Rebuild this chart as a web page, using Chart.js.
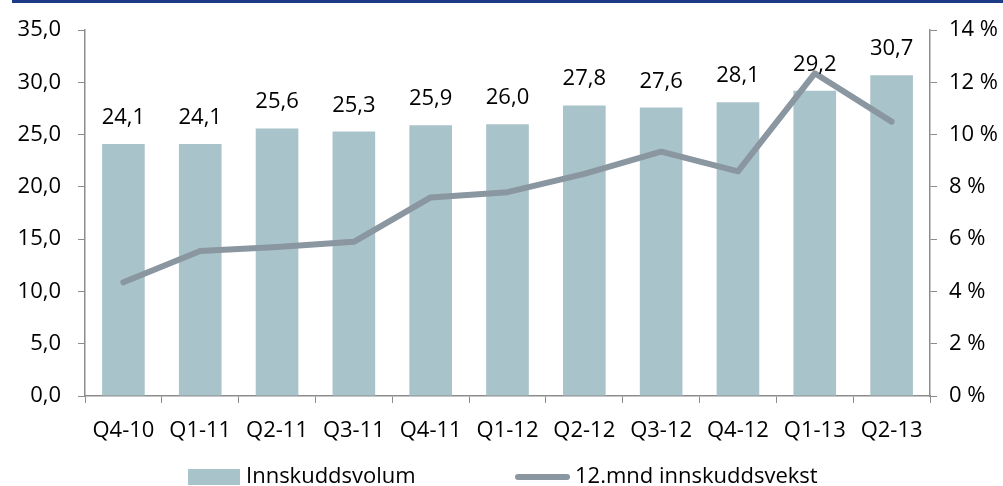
<!DOCTYPE html>
<html>
<head>
<meta charset="utf-8">
<script src="https://cdn.jsdelivr.net/npm/chart.js@4/dist/chart.umd.min.js"></script>
<style>
  html, body { margin: 0; padding: 0; background: #fff; }
  #wrap { position: relative; width: 1003px; height: 486px; overflow: hidden; font-family: "Open Sans", sans-serif; }
  #topline { position: absolute; left: 12px; top: 0; width: 991px; height: 3px; background: #1d3a86; }
  .legend-text { position: absolute; top: 459px; font-size: 22px; line-height: 30px; color: #000; }
  .swatch-bar { position: absolute; left: 188px; top: 469px; width: 52px; height: 16px; background: #a9c3ca; }
  .swatch-line { position: absolute; left: 515px; top: 474px; width: 55px; height: 6px; border-radius: 3px; background: #8a96a0; }
</style>
</head>
<body>
<div id="wrap">
  <canvas id="chart" width="1003" height="486"></canvas>
  <div id="topline"></div>
  <div class="swatch-bar"></div>
  <div class="legend-text" style="left:246px">Innskuddsvolum</div>
  <div class="swatch-line"></div>
  <div class="legend-text" style="left:575px">12.mnd innskuddsvekst</div>
</div>
<script>
const quarters = ["Q4-10", "Q1-11", "Q2-11", "Q3-11", "Q4-11", "Q1-12", "Q2-12", "Q3-12", "Q4-12", "Q1-13", "Q2-13"];
const volume = [24.1, 24.1, 25.6, 25.3, 25.9, 26.0, 27.8, 27.6, 28.1, 29.2, 30.7];
const growth = [4.35, 5.55, 5.7, 5.9, 7.6, 7.8, 8.5, 9.35, 8.6, 12.35, 10.5];

const axisGrey = "#8c8c8c";
const fontMain = { family: "Open Sans", size: 22 };

// value labels above the bars, Norwegian decimal comma
const barLabels = {
    id: "barLabels",
    afterDatasetsDraw(chart) {
        const ctx = chart.ctx;
        const meta = chart.getDatasetMeta(1);
        ctx.save();
        ctx.font = "22px 'Open Sans'";
        ctx.fillStyle = "#000";
        ctx.textAlign = "center";
        ctx.textBaseline = "alphabetic";
        meta.data.forEach((bar, i) => {
            ctx.fillText(volume[i].toFixed(1).replace(".", ","), bar.x, bar.y - 20);
        });
        ctx.restore();
    }
};

const ctx = document.getElementById("chart").getContext("2d");

new Chart(ctx, {
    type: "bar",
    data: {
        labels: quarters,
        datasets: [{
            type: "line",
            label: "12.mnd innskuddsvekst",
            data: growth,
            yAxisID: "y1",
            borderColor: "#8a96a0",
            borderWidth: 6,
            borderCapStyle: "round",
            borderJoinStyle: "round",
            pointRadius: 0,
            tension: 0,
            order: 0
        }, {
            label: "Innskuddsvolum",
            data: volume,
            yAxisID: "y",
            backgroundColor: "#a9c3ca",
            barPercentage: 0.555,
            categoryPercentage: 1,
            order: 1
        }]
    },
    options: {
        responsive: false,
        animation: false,
        layout: { padding: { top: 25, left: 0, right: 0, bottom: 0 } },
        plugins: {
            legend: { display: false },
            tooltip: { enabled: false }
        },
        scales: {
            x: {
                offset: true,
                grid: { offset: true, drawOnChartArea: false, drawTicks: true, tickLength: 7, color: axisGrey },
                border: { color: axisGrey, width: 1.5 },
                ticks: { color: "#000", font: fontMain, padding: 15, maxRotation: 0 },
                afterFit(scale) { scale.height = 90; }
            },
            y: {
                position: "left",
                min: 0,
                max: 35,
                grid: { drawOnChartArea: false, drawTicks: true, tickLength: 7, color: axisGrey },
                border: { color: axisGrey, width: 1.5 },
                ticks: {
                    stepSize: 5,
                    color: "#000",
                    font: fontMain,
                    padding: 17,
                    callback: v => v.toFixed(1).replace(".", ",")
                },
                afterFit(scale) { scale.width = 85; }
            },
            y1: {
                position: "right",
                min: 0,
                max: 14,
                grid: { drawOnChartArea: false, drawTicks: true, tickLength: 7, color: axisGrey },
                border: { color: axisGrey, width: 1.5 },
                ticks: {
                    stepSize: 2,
                    color: "#000",
                    font: fontMain,
                    padding: 12,
                    callback: v => v + " %"
                },
                afterFit(scale) { scale.width = 73; }
            }
        }
    },
    plugins: [barLabels]
});
</script>
</body>
</html>
